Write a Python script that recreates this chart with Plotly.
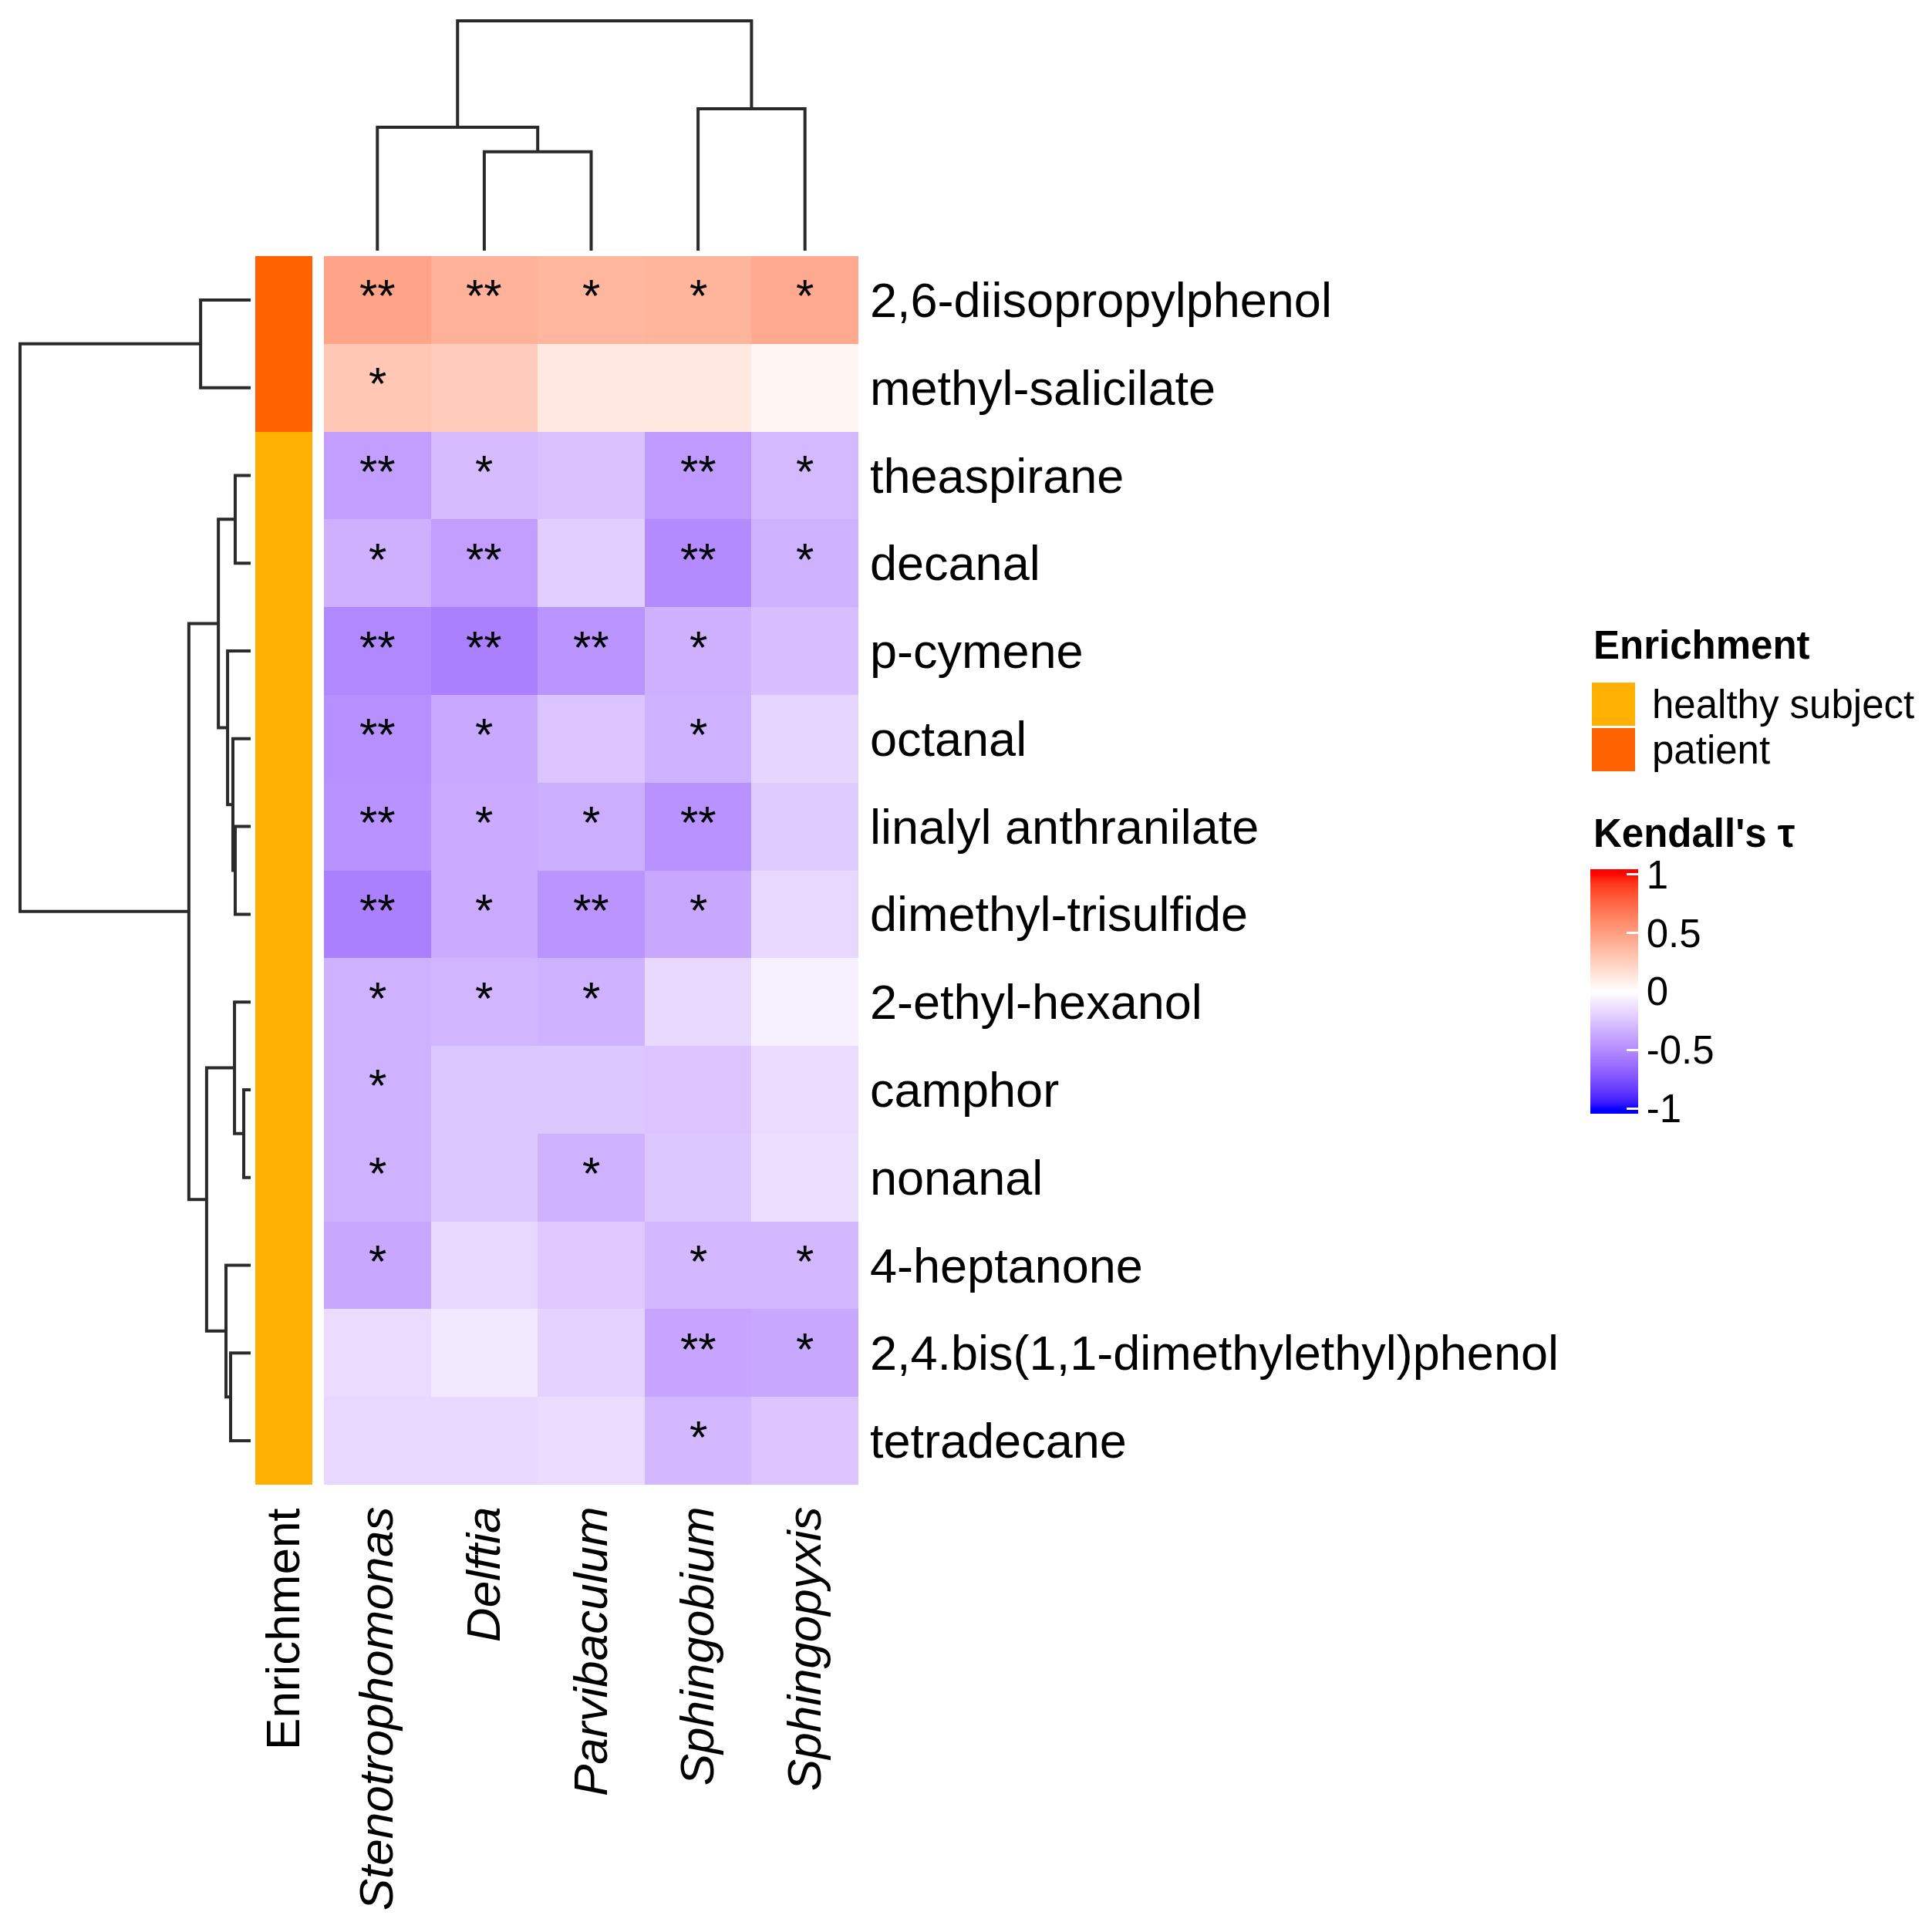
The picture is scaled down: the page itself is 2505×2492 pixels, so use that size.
import numpy as np
import plotly.graph_objects as go

W, H = 2505, 2492

# ---------------- data ----------------
compounds = ["2,6-diisopropylphenol", "methyl-salicilate", "theaspirane", "decanal",
             "p-cymene", "octanal", "linalyl anthranilate", "dimethyl-trisulfide",
             "2-ethyl-hexanol", "camphor", "nonanal", "4-heptanone",
             "2,4.bis(1,1-dimethylethyl)phenol", "tetradecane"]
genera = ["Stenotrophomonas", "Delftia", "Parvibaculum", "Sphingobium", "Sphingopyxis"]

tau = [
    [0.47, 0.40, 0.38, 0.39, 0.44],
    [0.29, 0.27, 0.12, 0.12, 0.05],
    [-0.42, -0.29, -0.26, -0.43, -0.30],
    [-0.34, -0.42, -0.21, -0.50, -0.33],
    [-0.51, -0.55, -0.46, -0.34, -0.28],
    [-0.48, -0.37, -0.25, -0.33, -0.18],
    [-0.47, -0.36, -0.35, -0.47, -0.22],
    [-0.55, -0.36, -0.46, -0.38, -0.17],
    [-0.33, -0.32, -0.33, -0.16, -0.06],
    [-0.33, -0.24, -0.24, -0.25, -0.15],
    [-0.33, -0.24, -0.33, -0.24, -0.14],
    [-0.38, -0.17, -0.23, -0.31, -0.31],
    [-0.15, -0.09, -0.19, -0.39, -0.38],
    [-0.17, -0.17, -0.15, -0.31, -0.25],
]
stars = [
    ["**", "**", "*", "*", "*"],
    ["*", "", "", "", ""],
    ["**", "*", "", "**", "*"],
    ["*", "**", "", "**", "*"],
    ["**", "**", "**", "*", ""],
    ["**", "*", "", "*", ""],
    ["**", "*", "*", "**", ""],
    ["**", "*", "**", "*", ""],
    ["*", "*", "*", "", ""],
    ["*", "", "", "", ""],
    ["*", "", "*", "", ""],
    ["*", "", "", "*", "*"],
    ["", "", "", "**", "*"],
    ["", "", "", "*", ""],
]
enrichment = ["patient", "patient"] + ["healthy subject"] * 12
enrich_levels = ["healthy subject", "patient"]
enrich_colors = ["#FFB000", "#FF6200"]

# hierarchical merges (child a, child b, height) ; leaves in display order
row_merges = [
    (0, 1, 0.217), (2, 3, 0.067), (6, 7, 0.067), (5, 16, 0.077), (4, 17, 0.100),
    (15, 18, 0.140), (9, 10, 0.030), (8, 20, 0.070), (12, 13, 0.087), (11, 22, 0.107),
    (21, 23, 0.191), (19, 24, 0.268), (14, 25, 1.0),
]
col_merges = [(1, 2, 0.43), (0, 5, 0.537), (3, 4, 0.617), (6, 7, 1.0)]

cbar_ticks = [-1, -0.5, 0, 0.5, 1]

FONT = "Liberation Sans, Arial, Helvetica, sans-serif"


# ---------------- helpers ----------------
def srgb_to_lab(rgb):
    c = np.array(rgb, float) / 255.0
    c = np.where(c > 0.04045, ((c + 0.055) / 1.055) ** 2.4, c / 12.92)
    M = np.array([[0.4124, 0.3576, 0.1805], [0.2126, 0.7152, 0.0722], [0.0193, 0.1192, 0.9505]])
    xyz = M @ c / np.array([0.95047, 1.0, 1.08883])
    f = np.where(xyz > 0.008856, np.cbrt(xyz), 7.787 * xyz + 16 / 116)
    return np.array([116 * f[1] - 16, 500 * (f[0] - f[1]), 200 * (f[1] - f[2])])


def lab_to_srgb(lab):
    L, a, b = lab
    fy = (L + 16) / 116
    fx = fy + a / 500
    fz = fy - b / 200
    f = np.array([fx, fy, fz])
    xyz = np.where(f ** 3 > 0.008856, f ** 3, (f - 16 / 116) / 7.787) * np.array([0.95047, 1.0, 1.08883])
    Minv = np.array([[3.2406, -1.5372, -0.4986], [-0.9689, 1.8758, 0.0415], [0.0557, -0.2040, 1.0570]])
    c = np.clip(Minv @ xyz, 0, 1)
    c = np.where(c > 0.0031308, 1.055 * c ** (1 / 2.4) - 0.055, 12.92 * c)
    return tuple(int(round(v * 255)) for v in c)


LAB_BLUE = srgb_to_lab((0, 0, 255))
LAB_WHITE = srgb_to_lab((255, 255, 255))
LAB_RED = srgb_to_lab((255, 0, 0))


def col_of(v):
    v = max(-1.0, min(1.0, v))
    if v < 0:
        lab = LAB_WHITE + (LAB_BLUE - LAB_WHITE) * (-v)
    else:
        lab = LAB_WHITE + (LAB_RED - LAB_WHITE) * v
    r, g, b = lab_to_srgb(lab)
    return f"rgb({r},{g},{b})"


ZMAX = 1.045
colorscale = []
for s in np.linspace(0, 1, 81):
    v = -ZMAX + 2 * ZMAX * s
    colorscale.append([float(s), col_of(v)])


def dendro(merges, n):
    pos = {i: float(i) for i in range(n)}
    hgt = {i: 0.0 for i in range(n)}
    P, Hh = [], []
    for k, (a, b, h) in enumerate(merges):
        P += [pos[a], pos[a], pos[b], pos[b], None]
        Hh += [hgt[a], h, h, hgt[b], None]
        pos[n + k] = (pos[a] + pos[b]) / 2
        hgt[n + k] = h
    return P, Hh


OFF = 8  # page body margin


def px(x):
    return (x - OFF) / W


def py(y):
    return 1 - (y - OFF) / H


# geometry (pixels, page coordinates)
HM_X0, HM_X1, HM_Y0, HM_Y1 = 420, 1113, 332, 1925
AN_X0, AN_X1 = 331, 405
RD_X0, RD_X1 = 20, 325
CD_Y0, CD_Y1 = 21, 325

nr, nc = len(compounds), len(genera)

fig = go.Figure()

# main heatmap
fig.add_trace(go.Heatmap(
    z=tau, x=list(range(nc)), y=list(range(nr)),
    colorscale=colorscale, zmin=-ZMAX, zmax=ZMAX,
    xaxis="x", yaxis="y", hoverinfo="skip",
    colorbar=dict(
        x=px(2062), xanchor="left", xref="paper",
        y=py((1127 + 1444) / 2), yanchor="middle", yref="paper",
        thickness=62, thicknessmode="pixels",
        len=317, lenmode="pixels",
        tickvals=cbar_ticks, ticktext=[str(t) for t in cbar_ticks],
        ticks="inside", ticklen=15, tickwidth=3, tickcolor="white",
        tickfont=dict(family=FONT, size=51, color="black"),
        outlinewidth=0, xpad=0, ypad=0,
    ),
))

# significance stars
for i in range(nr):
    for j in range(nc):
        if stars[i][j]:
            fig.add_annotation(x=j, y=i, xref="x", yref="y", text=stars[i][j], showarrow=False,
                               yshift=5, font=dict(family=FONT, size=60, color="black"))

# annotation bar
enc = [[enrich_levels.index(e)] for e in enrichment]
fig.add_trace(go.Heatmap(
    z=enc, x=[0], y=list(range(nr)),
    colorscale=[[0, enrich_colors[0]], [0.5, enrich_colors[0]], [0.5, enrich_colors[1]], [1, enrich_colors[1]]],
    zmin=0, zmax=1, showscale=False, xaxis="x2", yaxis="y", hoverinfo="skip",
))

# row dendrogram
rp, rh = dendro(row_merges, nr)
fig.add_trace(go.Scatter(x=rh, y=rp, mode="lines", line=dict(color="#2a2a2a", width=4),
                         xaxis="x3", yaxis="y", hoverinfo="skip", showlegend=False))
# column dendrogram
cp, ch = dendro(col_merges, nc)
fig.add_trace(go.Scatter(x=cp, y=ch, mode="lines", line=dict(color="#2a2a2a", width=4),
                         xaxis="x", yaxis="y4", hoverinfo="skip", showlegend=False))

ax_common = dict(showgrid=False, zeroline=False, showline=False, ticks="")

fig.update_layout(
    width=W, height=H, margin=dict(l=0, r=0, t=0, b=0),
    paper_bgcolor="white", plot_bgcolor="white",
    showlegend=False,
    font=dict(family=FONT, color="black"),
    xaxis=dict(domain=[px(HM_X0), px(HM_X1)], range=[-0.5, nc - 0.5], anchor="y",
               tickvals=list(range(nc)), ticktext=genera, tickangle=-90,
               tickfont=dict(family=FONT, size=62, style="italic", color="black"),
               ticklabelstandoff=15, **ax_common),
    yaxis=dict(domain=[py(HM_Y1), py(HM_Y0)], range=[nr - 0.5, -0.5], anchor="x", side="right",
               tickvals=list(range(nr)), ticktext=compounds,
               tickfont=dict(family=FONT, size=63, color="black"),
               ticklabelstandoff=14, **ax_common),
    xaxis2=dict(domain=[px(AN_X0), px(AN_X1)], range=[-0.5, 0.5], anchor="y",
                tickvals=[0], ticktext=["Enrichment"], tickangle=-90,
                tickfont=dict(family=FONT, size=62, color="black"),
                ticklabelstandoff=17, **ax_common),
    xaxis3=dict(domain=[px(RD_X0), px(RD_X1)], range=[1.02, 0], anchor="y", visible=False),
    yaxis4=dict(domain=[py(CD_Y1), py(CD_Y0)], range=[0, 1.02], anchor="x", visible=False),
)

# ---------------- legends (decoration) ----------------
LX = 2064
fig.add_annotation(x=px(LX), y=py(836), xref="paper", yref="paper", xanchor="left", yanchor="middle",
                   text="<b>Enrichment</b>", showarrow=False, font=dict(family=FONT, size=51, color="black"))
box_tops = [885, 944]
for lvl, colr, top in zip(enrich_levels, enrich_colors, box_tops):
    fig.add_shape(type="rect", xref="paper", yref="paper",
                  x0=px(LX), x1=px(LX + 56), y0=py(top + 56), y1=py(top),
                  fillcolor=colr, line=dict(width=0))
    fig.add_annotation(x=px(2140), y=py(top + 28), xref="paper", yref="paper",
                       xanchor="left", yanchor="middle", text=lvl, showarrow=False,
                       font=dict(family=FONT, size=51, color="black"))

fig.add_annotation(x=px(LX), y=py(1080), xref="paper", yref="paper", xanchor="left", yanchor="middle",
                   text="<b>Kendall's τ</b>", showarrow=False, font=dict(family=FONT, size=51, color="black"))

# left-side white tick marks on the colour bar
cb_c = (1127 + 1444) / 2
cb_half = 317 / 2
for t in cbar_ticks:
    yy = cb_c - t / ZMAX * cb_half
    fig.add_shape(type="line", xref="paper", yref="paper",
                  x0=px(2062), x1=px(2062 + 15), y0=py(yy), y1=py(yy),
                  line=dict(color="white", width=3))

fig.write_html("out.html")
